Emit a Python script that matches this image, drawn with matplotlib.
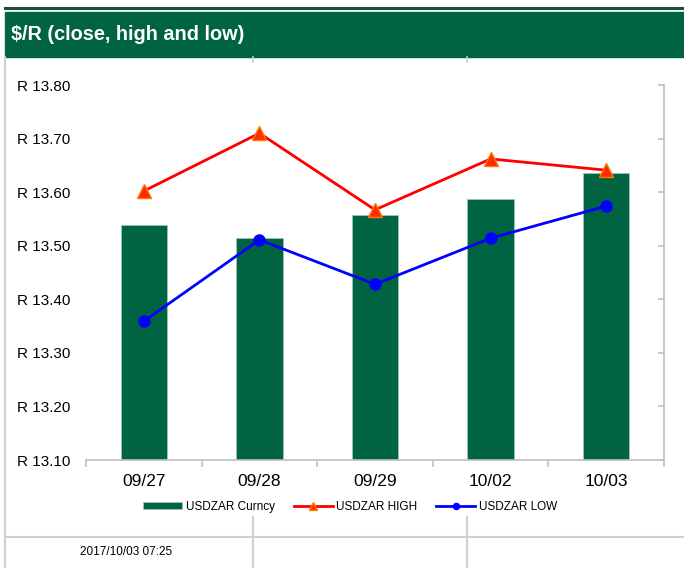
import numpy as np
import matplotlib.pyplot as plt
from matplotlib.lines import Line2D
from matplotlib.patches import Rectangle

plt.rcParams['font.family'] = ['Liberation Sans', 'DejaVu Sans']

# Data
dates = ['09/27', '09/28', '09/29', '10/02', '10/03']
close = [13.539, 13.514, 13.557, 13.587, 13.636]
high = [13.602, 13.710, 13.567, 13.662, 13.641]
low = [13.359, 13.511, 13.428, 13.514, 13.574]
yticks = [13.10, 13.20, 13.30, 13.40, 13.50, 13.60, 13.70, 13.80]

green = '#006341'
gray = '#D0D0D0'
W, H = 684, 568

fig = plt.figure(figsize=(6.84, 5.68), dpi=100)

def px(x, y):
    # pixel coords (from top-left) to figure fraction
    return x / W, 1 - y / H

# top dark rule and green header
fig.add_artist(Line2D([5 / W, 1], [1 - 8 / H, 1 - 8 / H], color='#1E4D3C', lw=2.2))
x0, y0 = px(5, 57)
fig.add_artist(Rectangle((x0, y0), 1 - x0, 45 / H, color=green, transform=fig.transFigure))
fig.text(11 / W, 1 - 34 / H, '$/R (close, high and low)', color='white', fontsize=14.3,
         fontweight='bold', va='center', ha='left')

# box lines
fig.add_artist(Line2D([5 / W, 5 / W], [0, 1 - 57 / H], color=gray, lw=1.5))
fig.add_artist(Line2D([5 / W, 1], [1 - 537 / H, 1 - 537 / H], color=gray, lw=1.5))
for xv in [253, 467]:
    fig.add_artist(Line2D([xv / W, xv / W], [0, 1 - 517 / H], color=gray, lw=1.5))
    fig.add_artist(Line2D([xv / W, xv / W], [1 - 62 / H, 1 - 57 / H], color=gray, lw=1.2))
fig.text(80 / W, 1 - 552 / H, '2017/10/03 07:25', fontsize=8.5, va='center', ha='left')

# chart
ax = fig.add_axes([86 / W, 1 - 460 / H, (664 - 86) / W, (460 - 85) / H])
x = np.arange(len(dates))
b = ax.bar(x, [c - 13.1 for c in close], bottom=13.1, width=0.40, color=green,
           edgecolor='#9CC9B4', linewidth=0.6, zorder=2)
lh, = ax.plot(x, high, color='#FF0000', lw=2, marker='^', markersize=9.5,
              markerfacecolor='#FF2A00', markeredgecolor='#FF7A00', markeredgewidth=1,
              zorder=3)
ll, = ax.plot(x, low, color='#0000FF', lw=2, marker='o', markersize=8,
              markerfacecolor='#0000FF', markeredgecolor='#0000FF', zorder=3)

ax.set_xlim(-0.5, len(dates) - 0.5)
ax.set_ylim(13.10, 13.80)
ax.set_yticks(yticks)
ax.set_yticklabels(['R %.2f' % v for v in yticks], fontsize=11)
ax.set_xticks(x)
ax.set_xticklabels(dates, fontsize=12.5)
ax.set_xticks(np.arange(-0.5, len(dates)), minor=True)

for s in ['left', 'top']:
    ax.spines[s].set_visible(False)
for s in ['bottom', 'right']:
    ax.spines[s].set_color('#BFBFBF')
    ax.spines[s].set_linewidth(1.2)

ax.tick_params(axis='y', left=False, right=True, labelleft=True, labelright=False,
               direction='in', length=4, color='#BFBFBF', width=1.2, pad=11)
ax.tick_params(axis='x', which='major', length=0, pad=10)
ax.tick_params(axis='x', which='minor', length=5, color='#BFBFBF', width=1.2)

ax.legend([b, lh, ll], ['USDZAR Curncy', 'USDZAR HIGH', 'USDZAR LOW'],
          loc='upper center', bbox_to_anchor=(0.457, -0.08), ncol=3, frameon=False,
          fontsize=8.5, handlelength=3.3, handletextpad=0.3, columnspacing=1.6,
          markerscale=0.55, handleheight=0.5)

fig.savefig('out.png', dpi=100)
